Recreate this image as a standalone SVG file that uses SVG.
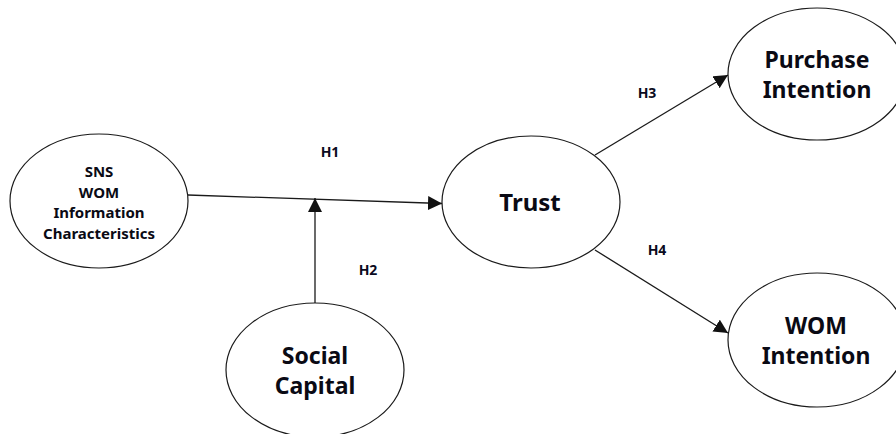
<svg xmlns="http://www.w3.org/2000/svg" width="896" height="434" viewBox="0 0 896 434">
  <style>
    .node { fill: #ffffff; stroke: #1a1a1a; stroke-width: 1.2; }
    .big { font-family: "Noto Sans", "Open Sans", "Liberation Sans", sans-serif; font-weight: bold; font-size: 23px; fill: #0a0a14; text-anchor: middle; }
    .small { font-family: "Noto Sans", "Open Sans", "Liberation Sans", sans-serif; font-weight: bold; font-size: 15px; fill: #0a0a14; text-anchor: middle; }
    .lbl { font-family: "Noto Sans", "Open Sans", "Liberation Sans", sans-serif; font-weight: bold; font-size: 14px; fill: #0a0a20; text-anchor: middle; }
    .edge { stroke: #1a1a1a; stroke-width: 1.3; fill: none; marker-end: url(#arrow); }
  </style>
  <defs>
    <marker id="arrow" viewBox="0 0 10 10" refX="10" refY="5" markerWidth="14" markerHeight="14" markerUnits="userSpaceOnUse" orient="auto">
      <path d="M0,0 L10,5 L0,10 z" fill="#111111"/>
    </marker>
  </defs>
  <rect width="896" height="434" fill="#ffffff"/>

  <g id="connectors">
    <line class="edge" x1="188" y1="195" x2="442" y2="203.5"/>
    <line class="edge" x1="315" y1="303" x2="315" y2="198"/>
    <line class="edge" x1="595" y1="155" x2="728" y2="75"/>
    <line class="edge" x1="595" y1="250" x2="728" y2="333"/>
    <text class="lbl" x="330" y="157">H1</text>
    <text class="lbl" x="368" y="275">H2</text>
    <text class="lbl" x="647" y="98">H3</text>
    <text class="lbl" x="657" y="255">H4</text>
  </g>

  <g id="sns-wom">
    <ellipse class="node" cx="99" cy="201" rx="89" ry="67"/>
    <text class="small" x="99" y="177">SNS</text>
    <text class="small" x="99" y="198">WOM</text>
    <text class="small" x="99" y="218">Information</text>
    <text class="small" x="99" y="239">Characteristics</text>
  </g>

  <g id="trust">
    <ellipse class="node" cx="531" cy="202" rx="89" ry="66"/>
    <text class="big" x="530" y="211" style="font-size:24px">Trust</text>
  </g>

  <g id="social-capital">
    <ellipse class="node" cx="315" cy="370" rx="89" ry="67"/>
    <text class="big" x="315" y="364">Social</text>
    <text class="big" x="315" y="394">Capital</text>
  </g>

  <g id="purchase-intention">
    <ellipse class="node" cx="817" cy="74" rx="89" ry="66"/>
    <text class="big" x="817" y="68">Purchase</text>
    <text class="big" x="817" y="98">Intention</text>
  </g>

  <g id="wom-intention">
    <ellipse class="node" cx="817" cy="340" rx="89" ry="67"/>
    <text class="big" x="816" y="334">WOM</text>
    <text class="big" x="816" y="364">Intention</text>
  </g>
</svg>
